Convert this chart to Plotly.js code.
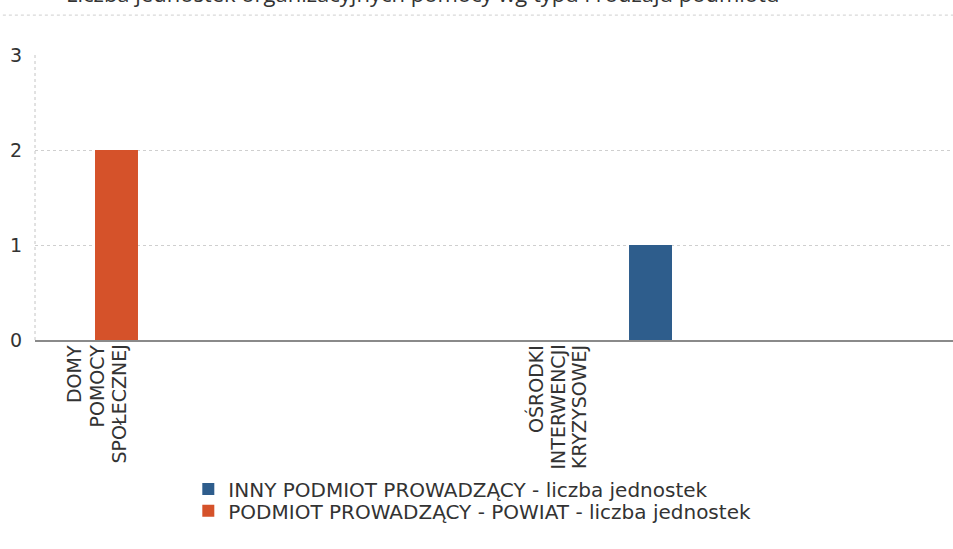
<!DOCTYPE html>
<html>
<head>
<meta charset="utf-8">
<script src="https://cdn.plot.ly/plotly-3.0.1.min.js"></script>
<style>html,body{margin:0;padding:0;background:#fff;}</style>
</head>
<body>
<div id="chart" style="width:953px;height:549px;"></div>
<script>
// ---- data ----
const titleText = 'Liczba jednostek organizacyjnych pomocy wg typu i rodzaju podmiotu';
const categories = ['DOMY POMOCY SPOŁECZNEJ', 'OŚRODKI INTERWENCJI KRYZYSOWEJ'];
const seriesNames = ['INNY PODMIOT PROWADZĄCY - liczba jednostek', 'PODMIOT PROWADZĄCY - POWIAT - liczba jednostek'];
const innyValues = [0, 1];
const powiatValues = [2, 0];
const yTickValues = [0, 1, 2, 3];
const yTickLabels = ['0', '1', '2', '3'];

// ---- styling ----
const blue = '#2e5d8c';
const orange = '#d5522a';
const labelFont = {family: 'DejaVu Sans', size: 19, color: '#333'};
const labelOffsets = [1, -115];   // horizontal shift of category label blocks (px)
const lineStep = 22;              // spacing of label lines (px)
const legendFont = {family: 'DejaVu Sans', size: 20, color: '#333'};

const traces = [
  {type: 'bar', name: seriesNames[0], x: categories, y: innyValues,
   marker: {color: blue, line: {width: 0}}, hoverinfo: 'x+y', legend: 'legend'},
  {type: 'bar', name: seriesNames[1], x: categories, y: powiatValues,
   marker: {color: orange, line: {width: 0}}, hoverinfo: 'x+y', legend: 'legend2'}
];

const annotations = [];
categories.forEach((cat, i) => {
  const words = cat.split(' ');
  const n = words.length;
  words.forEach((w, j) => {
    annotations.push({
      xref: 'x', yref: 'paper', x: cat, y: 0,
      xanchor: 'center', yanchor: 'top',
      xshift: labelOffsets[i] + (j - (n - 1) / 2) * lineStep,
      yshift: -3,
      text: w, textangle: -90, showarrow: false,
      font: labelFont
    });
  });
});
annotations.push({
  xref: 'paper', yref: 'paper', x: 0.032, y: 1.158,
  xanchor: 'left', yanchor: 'bottom',
  text: titleText, showarrow: false,
  font: {family: 'Open Sans', size: 22, color: '#333'}
});

const legendBase = {
  x: 0.167, xanchor: 'left', yanchor: 'top',
  orientation: 'v', font: legendFont,
  bgcolor: 'rgba(0,0,0,0)', tracegroupgap: 0, itemclick: false
};

const layout = {
  width: 953, height: 549,
  margin: {l: 35, r: 0, t: 55, b: 209, pad: 0},
  paper_bgcolor: '#fff', plot_bgcolor: '#fff',
  barmode: 'group', bargap: 0.851, bargroupgap: 0,
  showlegend: true,
  legend: Object.assign({}, legendBase, {y: -0.454}),
  legend2: Object.assign({}, legendBase, {y: -0.531}),
  xaxis: {
    type: 'category', range: [-0.104, 1.487],
    showticklabels: false, showgrid: false, zeroline: false,
    showline: true, linecolor: '#8a8a8a', linewidth: 1.5, ticks: ''
  },
  yaxis: {
    range: [0, 3], tickvals: yTickValues, ticktext: yTickLabels,
    showgrid: true, gridcolor: '#cfcfcf', griddash: 'dot', gridwidth: 1,
    zeroline: false, showline: false, ticks: '',
    ticklabelstandoff: 12,
    tickfont: {family: 'DejaVu Sans', size: 19, color: '#333'}
  },
  shapes: [
    {type: 'line', xref: 'paper', yref: 'paper', x0: 0, x1: 0, y0: 0, y1: 1,
     line: {color: '#c4c4c4', width: 1, dash: 'dot'}},
    {type: 'line', xref: 'paper', yref: 'paper', x0: -0.035, x1: 1, y0: 1.14, y1: 1.14,
     line: {color: '#cfcfcf', width: 1, dash: 'dot'}}
  ],
  annotations: annotations
};

Plotly.newPlot('chart', traces, layout, {displayModeBar: false, staticPlot: true});
</script>
</body>
</html>
